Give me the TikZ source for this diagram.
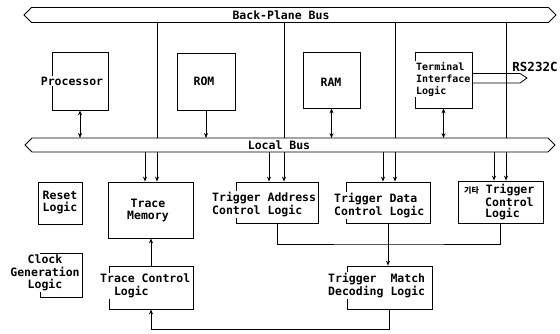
\documentclass[tikz,border=0pt]{standalone}
\usepackage{fontspec}
\setmonofont{DejaVu Sans Mono}
\newfontfamily\cjk{Noto Sans CJK KR}
\usetikzlibrary{arrows.meta}
\begin{document}
\begin{tikzpicture}[x=1pt,y=-1pt,
  box/.style={draw, line width=0.8pt, inner sep=0pt},
  txt/.style={font=\ttfamily\bfseries\fontsize{11.5}{12.5}\selectfont, inner sep=1pt, fill=white},
  bustxt/.style={font=\ttfamily\bfseries\fontsize{11.5}{12.5}\selectfont, inner sep=0pt},
  conn/.style={line width=1pt},
  arr/.style={line width=1pt, -{Stealth[length=5pt,width=4pt]}},
  darr/.style={line width=1pt, {Stealth[length=5pt,width=4pt]}-{Stealth[length=5pt,width=4pt]}},
  busline/.style={line width=0.8pt, line join=miter}]
\useasboundingbox (0,0) rectangle (560,333);
% buses
\draw[busline] (24,15) -- (31.5,7.5) -- (548.5,7.5) -- (556,15) -- (548.5,22.5) -- (31.5,22.5) -- cycle;
\coordinate (bpS) at (290,22.5);
\node[bustxt] (bpl) at (281,15.5) {Back-Plane Bus};
\draw[busline] (25,145) -- (32,138) -- (548,138) -- (555,145) -- (548,152) -- (32,152) -- cycle;
\coordinate (lbN) at (290,138);
\coordinate (lbS) at (290,152);
\node[bustxt] (lbl) at (279,145) {Local Bus};
% columns
\coordinate (x1) at (157,0);
\coordinate (x2) at (284,0);
\coordinate (x3) at (395,0);
\coordinate (x4) at (506,0);
\coordinate (a1) at (145,0);
\coordinate (a2) at (269,0);
\coordinate (a3) at (383,0);
\coordinate (a4) at (494,0);
% boxes
\node[box, minimum width=56pt, minimum height=58pt] (proc) at (80,81) {};
\node[box, minimum width=58pt, minimum height=57pt] (rom) at (206,81.5) {};
\node[box, minimum width=57pt, minimum height=56pt] (ram) at (331.5,80) {};
\node[box, minimum width=57pt, minimum height=56pt] (term) at (443.5,80) {};
\node[box, minimum width=44pt, minimum height=42pt] (reset) at (60,203) {};
\node[box, minimum width=85pt, minimum height=56pt] (tmem) at (150.5,210) {};
\node[box, minimum width=42pt, minimum height=44pt] (clock) at (61,275) {};
\node[box, minimum width=84pt, minimum height=43pt] (tctl) at (151,287.5) {};
\node[box, minimum width=82pt, minimum height=41pt] (taddr) at (277,202.5) {};
\node[box, minimum width=84pt, minimum height=41pt] (tdata) at (388,202.5) {};
\node[box, minimum width=85pt, minimum height=42pt] (tother) at (500.5,202) {};
\node[box, minimum width=85pt, minimum height=43pt] (tmatch) at (389.5,287.5) {};
% texts
\node[txt] (tproc) at (72,81) {Processor};
\node[txt] (trom) at (204,81) {ROM};
\node[txt] (tram) at (331,82) {RAM};
\node[txt, anchor=west, align=left, font=\ttfamily\bfseries\fontsize{10}{12}\selectfont] (tterm) at (415,79) {Terminal\\Interface\\Logic};
\node[bustxt, font=\ttfamily\bfseries\fontsize{12.5}{13}\selectfont] (trs) at (535,67) {RS232C};
\node[txt, align=center] (treset) at (60,202.5) {Reset\\Logic};
\node[txt, align=center] (ttmem) at (148,210.5) {Trace\\Memory};
\node[txt, align=center] (tclock) at (45,273) {Clock\\Generation\\Logic};
\node[txt, anchor=west, align=left] (ttctl) at (99,286) {Trace Control\\\phantom{Tr}Logic};
\node[txt, anchor=west, align=left] (ttaddr) at (211,204.5) {Trigger Address\\Control Logic};
\node[txt, anchor=west, align=left] (ttdata) at (333,205.5) {Trigger Data\\Control Logic};
\node[txt, anchor=west, align=left, font=\ttfamily\bfseries\fontsize{11.5}{11}\selectfont] (ttother) at (463,202) {{\cjk\fontsize{8}{9}\selectfont 기타}\ Trigger\\\hspace*{21pt}Control\\\hspace*{21pt}Logic};
\node[txt, anchor=west, align=left] (ttmatch) at (327,285.5) {Trigger\ \ Match\\Decoding Logic};
% RS232C arrow
\coordinate (rsA) at (520,73.5);
\coordinate (rsT) at (527,78);
\coordinate (rsB) at (520,83);
\draw[busline] (term.east |- rsA) -- (rsA) -- (rsT) -- (rsB) -- (term.east |- rsB);
% back-plane to local bus
\foreach \c in {x1,x2,x3,x4} \draw[conn] (\c |- bpS) -- (\c |- lbN);
% upper boxes to local bus
\draw[darr] (proc.south) -- (proc.south |- lbN);
\draw[arr] (rom.south) -- (rom.south |- lbN);
\draw[darr] (ram.south) -- (ram.south |- lbN);
\draw[darr] (term.south) -- (term.south |- lbN);
% local bus to lower boxes
\draw[arr] (a1 |- lbS) -- (a1 |- tmem.north);
\draw[arr] (x1 |- lbS) -- (x1 |- tmem.north);
\draw[arr] (a2 |- lbS) -- (a2 |- taddr.north);
\draw[arr] (x2 |- lbS) -- (x2 |- taddr.north);
\draw[arr] (a3 |- lbS) -- (a3 |- tdata.north);
\draw[arr] (x3 |- lbS) -- (x3 |- tdata.north);
\draw[arr] (a4 |- lbS) -- (a4 |- tother.north);
\draw[arr] (x4 |- lbS) -- (x4 |- tother.north);
% trigger logic
\coordinate (j) at (389,244);
\draw[conn] (taddr.south) |- (j) -| (tother.south);
\draw[arr] (tdata.south) -- (tdata.south |- tmatch.north);
\coordinate (bt) at (0,329);
\draw[arr] (tmatch.south) -- (tmatch.south |- bt) -| (tctl.south);
\draw[arr] (tctl.north) -- (tctl.north |- tmem.south);
\end{tikzpicture}
\end{document}
